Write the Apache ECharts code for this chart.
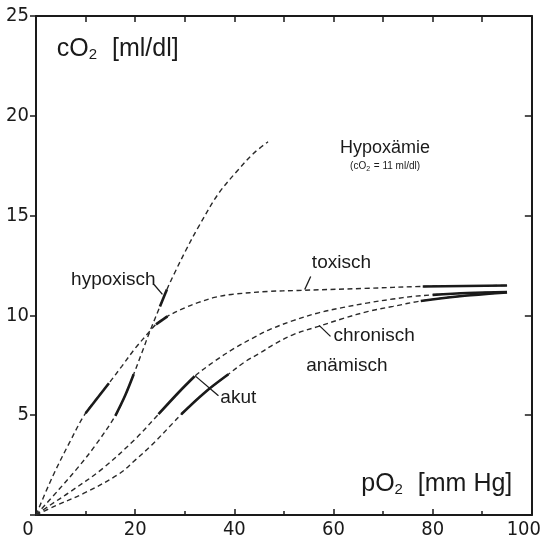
<!DOCTYPE html>
<html><head><meta charset="utf-8">
<script src="https://cdn.jsdelivr.net/npm/echarts@6/dist/echarts.min.js"></script>
<style>html,body{margin:0;padding:0;background:#fff}#c{width:544px;height:540px}</style>
</head><body><div id="c"></div>
<script>
// ---- data (pO2 [mmHg], cO2 [ml/dl]) ----
const hypoxisch = [[0,0],[4.7,1.3],[8.7,2.45],[12,3.5],[16,4.97],[18,6.0],[19.7,7.05],[21.3,8.1],[23,9.22],[25,10.45],[26.4,11.3],[28,12.15],[30.2,13.25],[32.8,14.45],[36.8,16.1],[40.8,17.3],[43.8,18.1],[46.8,18.7]];
const toxisch = [[0,0],[3.3,1.9],[6.7,3.6],[10,5.1],[14.7,6.6],[17.3,7.45],[20,8.35],[23,9.22],[24.2,9.55],[26.5,9.95],[30,10.38],[32.8,10.65],[36,10.9],[39.4,11.05],[46.8,11.2],[52.8,11.25],[66,11.35],[78,11.45],[95,11.5]];
const akut = [[0,0],[2.7,0.47],[6.7,1.13],[13.3,2.3],[20,3.8],[24.7,5.05],[28.8,6.15],[32,6.95],[36,7.7],[40,8.35],[44,8.9],[47.2,9.3],[52,9.75],[57,10.13],[62,10.4],[67,10.63],[72,10.82],[76,10.95],[80,11.03],[87,11.12],[95,11.17]];
const chronisch = [[0,0],[4,0.47],[10,1.13],[16.7,2.05],[20,2.75],[23.3,3.5],[27.6,4.6],[29.3,5.05],[34,6.13],[38.8,7.05],[42,7.65],[45.4,8.15],[48,8.55],[52,9.05],[57,9.45],[62,9.85],[67,10.2],[72,10.45],[77.6,10.72],[85,10.95],[95,11.15]];

// solid (highlighted) ranges, as pO2 intervals on each curve
const hypoxischSolid = [[16,19.7],[25,26.4]];
const toxischSolid = [[10,14.7],[24.2,26.5],[78,95]];
const akutSolid = [[24.7,32],[80,95]];
const chronischSolid = [[29.3,38.8],[77.6,95]];

// axis ticks
const xLabelValues = [0,20,40,60,80,100];
const yLabelValues = [5,10,15,20,25];

// annotation texts and leader lines (data coordinates)
const labelTexts = ['hypoxisch','toxisch','chronisch','anämisch','akut'];
const labelPos = [[15.6,11.8],[61.6,12.65],[68.2,9.0],[62.7,7.5],[40.8,5.85]];
const leaders = [
  [[23.8,11.55],[25.5,11.05]],
  [[55.4,11.95],[54.2,11.3]],
  [[57.1,9.5],[59.4,8.95]],
  [[32.1,6.97],[36.8,5.97]]
];
const titleY = 'cO₂ [ml/dl]';
const titleX = 'pO₂ [mm Hg]';
const noteTitle = 'Hypoxämie';
const noteSub = '(cO₂ = 11 ml/dl)';

const F = "'Liberation Sans', Arial, sans-serif";
const N = "'Liberation Sans Narrow','DejaVu Sans Condensed','Liberation Sans', sans-serif";
const INK = '#1a1a1a';

function sub(curve, range){ return curve.filter(p => p[0] >= range[0]-1e-9 && p[0] <= range[1]+1e-9); }
function dashed(data){
  return {type:'line', data, smooth:0.35, symbol:'none', silent:true, animation:false,
    lineStyle:{color:'#2a2a2a', width:1.4, type:[5,3.5]}, z:2};
}
function solid(data){
  return {type:'line', data, smooth:0.35, symbol:'none', silent:true, animation:false,
    lineStyle:{color:INK, width:2.6, cap:'butt'}, z:3};
}
const series = [];
[[hypoxisch,hypoxischSolid],[toxisch,toxischSolid],[akut,akutSolid],[chronisch,chronischSolid]].forEach(([c,rs])=>{
  series.push(dashed(c));
  rs.forEach(r=>series.push(solid(sub(c,r))));
});
leaders.forEach(l=>series.push({type:'line', data:l, symbol:'none', silent:true, animation:false,
  lineStyle:{color:INK, width:1.3}, z:4}));

const chart = echarts.init(document.getElementById('c'), null, {renderer:'canvas'});
const axisLineStyle = {color:INK, width:2};
chart.setOption({
  backgroundColor:'#fff',
  animation:false,
  grid:{left:36, right:8, top:16, bottom:24, containLabel:false},
  xAxis:[
    {type:'value', min:0, max:100, interval:20, position:'bottom',
     axisLine:{show:true, onZero:false, lineStyle:axisLineStyle},
     axisTick:{show:true, inside:true, length:6, lineStyle:{color:INK, width:1.5}},
     minorTick:{show:true, splitNumber:2, length:4, lineStyle:{color:INK, width:1.5}},
     splitLine:{show:false},
     axisLabel:{margin:5, fontSize:20, fontFamily:N, color:INK,
       formatter:v => (v===0||v===100) ? '{e|'+v+'}' : (xLabelValues.includes(v)? String(v):''),
       rich:{e:{fontSize:20, fontFamily:N, color:INK, padding:[0,16,0,0]}}}},
    {type:'value', min:0, max:100, interval:10, position:'top',
     axisLine:{show:true, onZero:false, lineStyle:axisLineStyle},
     axisTick:{show:true, inside:true, length:6, lineStyle:{color:INK, width:1.5}},
     axisLabel:{show:false}, splitLine:{show:false}}
  ],
  yAxis:[
    {type:'value', min:0, max:25, interval:5, position:'left',
     axisLine:{show:true, onZero:false, lineStyle:axisLineStyle},
     axisTick:{show:true, inside:false, length:6, lineStyle:{color:INK, width:1.5}},
     splitLine:{show:false},
     axisLabel:{margin:7, fontSize:20, fontFamily:N, color:INK,
       formatter:v => yLabelValues.includes(v)? String(v):''}},
    {type:'value', min:0, max:25, interval:5, position:'right',
     axisLine:{show:true, onZero:false, lineStyle:axisLineStyle},
     axisTick:{show:true, inside:true, length:7, lineStyle:{color:INK, width:1.5}},
     axisLabel:{show:false}, splitLine:{show:false}}
  ],
  series
});

function px(p){ return chart.convertToPixel({xAxisIndex:0, yAxisIndex:0}, p); }
const graphics = [];
labelTexts.forEach((t,i)=>{
  const p = px(labelPos[i]);
  graphics.push({type:'text', x:p[0], y:p[1], silent:true, style:{text:t, fill:INK, font:'19px '+F, align:'center', verticalAlign:'middle'}});
});
function subText(str, size, subSize, dy){
  const parts = str.split('₂');
  return {text:'{m|'+parts[0]+'}{s|2}{m|'+parts[1]+'}',
    rich:{m:{fontSize:size, fontFamily:F, fill:INK}, s:{fontSize:subSize, fontFamily:F, fill:INK, padding:[dy,1,0,0]}}};
}
let p = px([4.2,23.35]);
graphics.push({type:'text', x:p[0], y:p[1], silent:true, style:Object.assign({fill:INK, align:'left', verticalAlign:'middle'}, subText(titleY.replace(' ','  '),25,15,12))});
p = px([65.6,1.55]);
graphics.push({type:'text', x:p[0], y:p[1], silent:true, style:Object.assign({fill:INK, align:'left', verticalAlign:'middle'}, subText(titleX.replace(' ','  '),25,15,12))});
p = px([70.4,18.4]);
graphics.push({type:'text', x:p[0], y:p[1], silent:true, style:{text:noteTitle, fill:INK, font:'18px '+F, align:'center', verticalAlign:'middle'}});
p = px([70.4,17.45]);
graphics.push({type:'text', x:p[0], y:p[1], silent:true, style:Object.assign({fill:INK, align:'center', verticalAlign:'middle'}, subText(noteSub,10,7,5))});
chart.setOption({graphic:graphics});
</script></body></html>
